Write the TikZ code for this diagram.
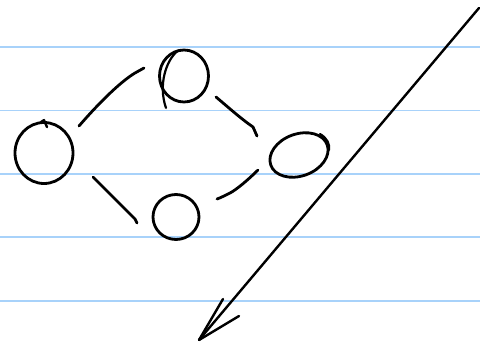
\documentclass[tikz,border=0pt]{standalone}
\usetikzlibrary{shapes.geometric}
\definecolor{rulecol}{RGB}{168,210,250}
\begin{document}
\begin{tikzpicture}[x=1pt,y=-1pt,
  ink/.style={line width=2.8pt, line cap=round, line join=round},
  circ/.style={draw, ink, ellipse, inner sep=0pt},
  rule/.style={draw=rulecol, line width=1.6pt}]
\useasboundingbox (0,0) rectangle (480,345);
\foreach \y in {47.3,110.5,173.8,237.2,300.7} \draw[rule] (0,\y) -- (480,\y);
% nodes
\node[circ, minimum width=58pt, minimum height=61pt] (L) at (44,153) {};
\node[circ, minimum width=49pt, minimum height=52pt] (T) at (184,76) {};
\node[circ, minimum width=46pt, minimum height=45pt] (B) at (176,217) {};
\node[circ, minimum width=60pt, minimum height=42pt, rotate=20] (R) at (299,155) {};
% hand strokes on circles
\draw[ink, line width=2.4pt] (L.north) ++(-3,1) -- ++(3,-2) -- ++(3,7);
\draw[ink, line width=2.2pt] (T.north) ++(-6,2) .. controls (166,60) and (158,85) .. (166,108);
\draw[ink, line width=2.2pt] (320,134) .. controls (327,138) and (330,144) .. (329,150);
% connector end points
\coordinate (a1) at (79,126);  \coordinate (a2) at (144,68);
\coordinate (b1) at (93,177);  \coordinate (b2) at (137,223);
\coordinate (c1) at (216,97);  \coordinate (c2) at (257,136);
\coordinate (d1) at (258,170); \coordinate (d2) at (217,199);
\draw[ink] (a1) .. controls (98,104) and (120,82) .. (135,73) -- (a2);
\draw[ink] (b1) -- (135,219) -- (b2);
\draw[ink] (c1) .. controls (228,107) and (240,118) .. (253,127) -- (c2);
\draw[ink] (d1) .. controls (248,180) and (236,190) .. (230,193) .. controls (224,196) and (220,198) .. (d2);
% big arrow
\coordinate (s) at (479,8);
\coordinate (tip) at (199,340);
\coordinate (w1) at (223,299);
\coordinate (w2) at (239,316);
\draw[ink, line width=2.4pt] (s) -- (tip);
\draw[ink, line width=2.4pt] (w1) -- (tip) -- (w2);
\end{tikzpicture}
\end{document}
